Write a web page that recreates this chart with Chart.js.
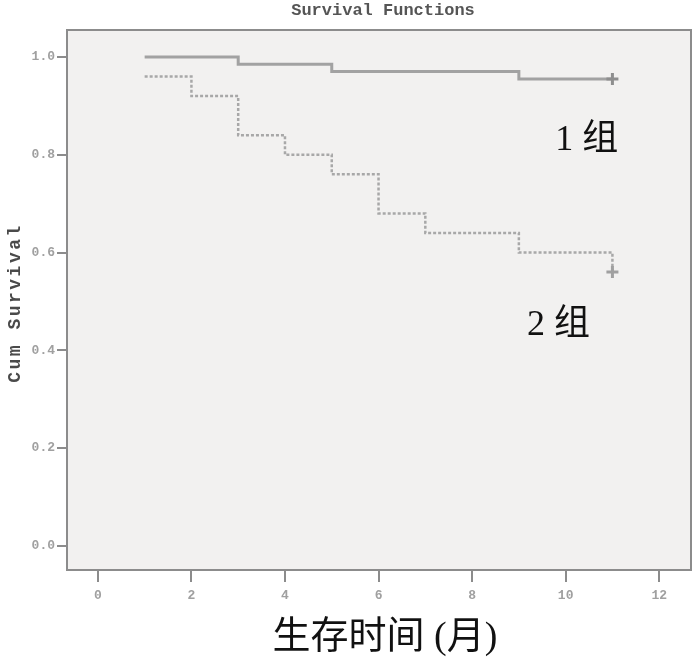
<!DOCTYPE html>
<html>
<head>
<meta charset="utf-8">
<script src="https://cdn.jsdelivr.net/npm/chart.js@4"></script>
<style>
  body { margin: 0; background: #fff; }
  #wrap { width: 700px; height: 667px; position: relative; }
</style>
</head>
<body>
<div id="wrap"><canvas id="km"></canvas></div>
<script>
// survival data
const group1Time = [1, 3, 5, 9, 11];
const group1Surv = [1.0, 0.985, 0.97, 0.955, 0.955];
const group2Time = [1, 2, 3, 4, 5, 6, 7, 9, 11];
const group2Surv = [0.96, 0.92, 0.84, 0.80, 0.76, 0.68, 0.64, 0.60, 0.56];

const xTicks = [0, 2, 4, 6, 8, 10, 12];
const yTicks = [0.0, 0.2, 0.4, 0.6, 0.8, 1.0];

const groupNames = ['1 组', '2 组'];

function toPoints(xs, ys) {
    return xs.map((x, i) => ({ x: x, y: ys[i] }));
}

// cross only on the last (censored) point
function lastOnly(size) {
    return ctx => ctx.dataIndex === ctx.dataset.data.length - 1 ? size : 0;
}

const decor = {
    id: 'decor',
    beforeDatasetsDraw(chart) {
        const { ctx, chartArea: a } = chart;
        ctx.save();
        ctx.fillStyle = '#f2f1f0';
        ctx.fillRect(a.left, a.top, a.right - a.left, a.bottom - a.top);
        ctx.strokeStyle = '#8c8c8c';
        ctx.lineWidth = 2;
        ctx.strokeRect(a.left, a.top, a.right - a.left, a.bottom - a.top);
        ctx.restore();
    },
    afterDraw(chart) {
        const { ctx } = chart;
        const xs = chart.scales.x, ys = chart.scales.y;
        ctx.save();
        // main title
        ctx.fillStyle = '#555';
        ctx.font = 'bold 17px "Liberation Mono", monospace';
        ctx.textAlign = 'center';
        ctx.textBaseline = 'middle';
        ctx.fillText('Survival Functions', 383, 11);

        // y title
        ctx.save();
        ctx.translate(15, 303);
        ctx.rotate(-Math.PI / 2);
        ctx.fillStyle = '#4a4a4a';
        ctx.font = 'bold 18px "Liberation Mono", monospace';
        ctx.letterSpacing = '2.5px';
        ctx.fillText('Cum Survival', 0, 0);
        ctx.restore();

        // x title
        ctx.fillStyle = '#111';
        ctx.font = '38px "Liberation Serif", "Noto Sans CJK SC", serif';
        ctx.fillText('生存时间 (月)', 385, 638);

        // group labels
        ctx.font = '36px "Liberation Serif", "Noto Sans CJK SC", serif';
        ctx.fillText(groupNames[0], xs.getPixelForValue(10.45), ys.getPixelForValue(0.83));
        ctx.fillText(groupNames[1], xs.getPixelForValue(9.85), ys.getPixelForValue(0.45));
        ctx.restore();
    }
};

const tickFont = { family: '"Liberation Mono", monospace', size: 13, weight: 'bold' };

new Chart(document.getElementById('km'), {
    type: 'line',
    data: {
        datasets: [
            {
                label: groupNames[0],
                data: toPoints(group1Time, group1Surv),
                stepped: 'before',
                borderColor: '#a2a2a2',
                borderWidth: 3,
                pointStyle: 'cross',
                pointRadius: lastOnly(6),
                pointBorderWidth: 3,
                pointBorderColor: '#8e8e8e',
                fill: false
            },
            {
                label: groupNames[1],
                data: toPoints(group2Time, group2Surv),
                stepped: 'before',
                borderColor: '#a8a8a8',
                borderWidth: 2.5,
                borderDash: [3, 2],
                pointStyle: 'cross',
                pointRadius: lastOnly(6),
                pointBorderWidth: 3,
                pointBorderColor: '#a0a0a0',
                fill: false
            }
        ]
    },
    options: {
        responsive: true,
        maintainAspectRatio: false,
        animation: false,
        layout: { padding: { top: 30, right: 5, left: 0, bottom: 0 } },
        plugins: {
            legend: { display: false },
            tooltip: { enabled: false }
        },
        scales: {
            x: {
                type: 'linear',
                min: -0.66,
                max: 12.68,
                afterBuildTicks: s => { s.ticks = xTicks.map(v => ({ value: v })); },
                afterFit: s => { s.height = 97; s.paddingLeft = 0; s.paddingRight = 0; },
                grid: { drawOnChartArea: false, drawTicks: true, tickLength: 12, color: '#8c8c8c', lineWidth: 2 },
                border: { display: false },
                ticks: { font: tickFont, color: '#a0a0a0', padding: 6, maxRotation: 0 }
            },
            y: {
                min: -0.049,
                max: 1.055,
                afterBuildTicks: s => { s.ticks = yTicks.map(v => ({ value: v })); },
                afterFit: s => { s.width = 67; s.paddingTop = 0; s.paddingBottom = 0; },
                grid: { drawOnChartArea: false, drawTicks: true, tickLength: 10, color: '#8c8c8c', lineWidth: 2 },
                border: { display: false },
                ticks: { font: tickFont, color: '#a0a0a0', padding: 2, callback: v => v.toFixed(1) }
            }
        }
    },
    plugins: [decor]
});
</script>
</body>
</html>
